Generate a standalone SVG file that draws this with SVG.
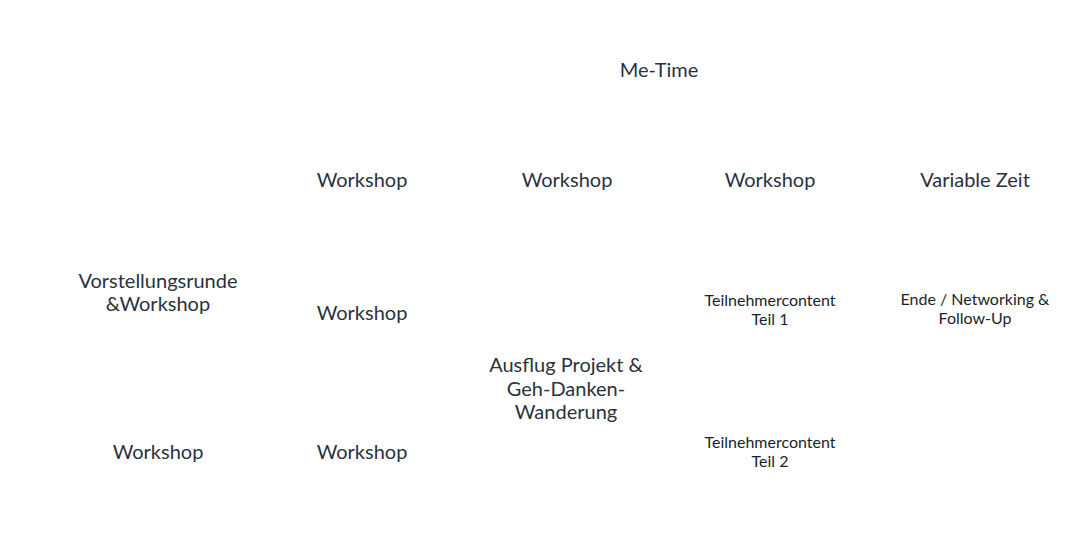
<svg xmlns="http://www.w3.org/2000/svg" width="1080" height="552" viewBox="0 0 1080 552">
<style>
text{font-family:"Lato","Noto Sans",sans-serif;fill:#2a3240;text-anchor:middle;}
.l{font-size:20px;}
.s{font-size:16px;fill:#1a1f2a;}
</style>
<rect width="1080" height="552" fill="#fff"/>
<g id="n1"><text class="l" x="659" y="77">Me-Time</text></g>
<g id="n2"><text class="l" x="362" y="187">Workshop</text></g>
<g id="n3"><text class="l" x="567" y="187">Workshop</text></g>
<g id="n4"><text class="l" x="770" y="187">Workshop</text></g>
<g id="n5"><text class="l" x="975" y="187">Variable Zeit</text></g>
<g id="n6"><text class="l" x="158" y="288">Vorstellungsrunde</text><text class="l" x="158" y="311">&amp;Workshop</text></g>
<g id="n7"><text class="l" x="362" y="320">Workshop</text></g>
<g id="n8"><text class="s" x="770" y="306">Teilnehmercontent</text><text class="s" x="770" y="325">Teil 1</text></g>
<g id="n9"><text class="s" x="975" y="305">Ende / Networking &amp;</text><text class="s" x="975" y="324">Follow-Up</text></g>
<g id="n10"><text class="l" x="566" y="372">Ausflug Projekt &amp;</text><text class="l" x="566" y="396">Geh-Danken-</text><text class="l" x="566" y="419">Wanderung</text></g>
<g id="n11"><text class="l" x="158" y="459">Workshop</text></g>
<g id="n12"><text class="l" x="362" y="459">Workshop</text></g>
<g id="n13"><text class="s" x="770" y="448">Teilnehmercontent</text><text class="s" x="770" y="467">Teil 2</text></g>
<g id="connectors"></g>
</svg>
